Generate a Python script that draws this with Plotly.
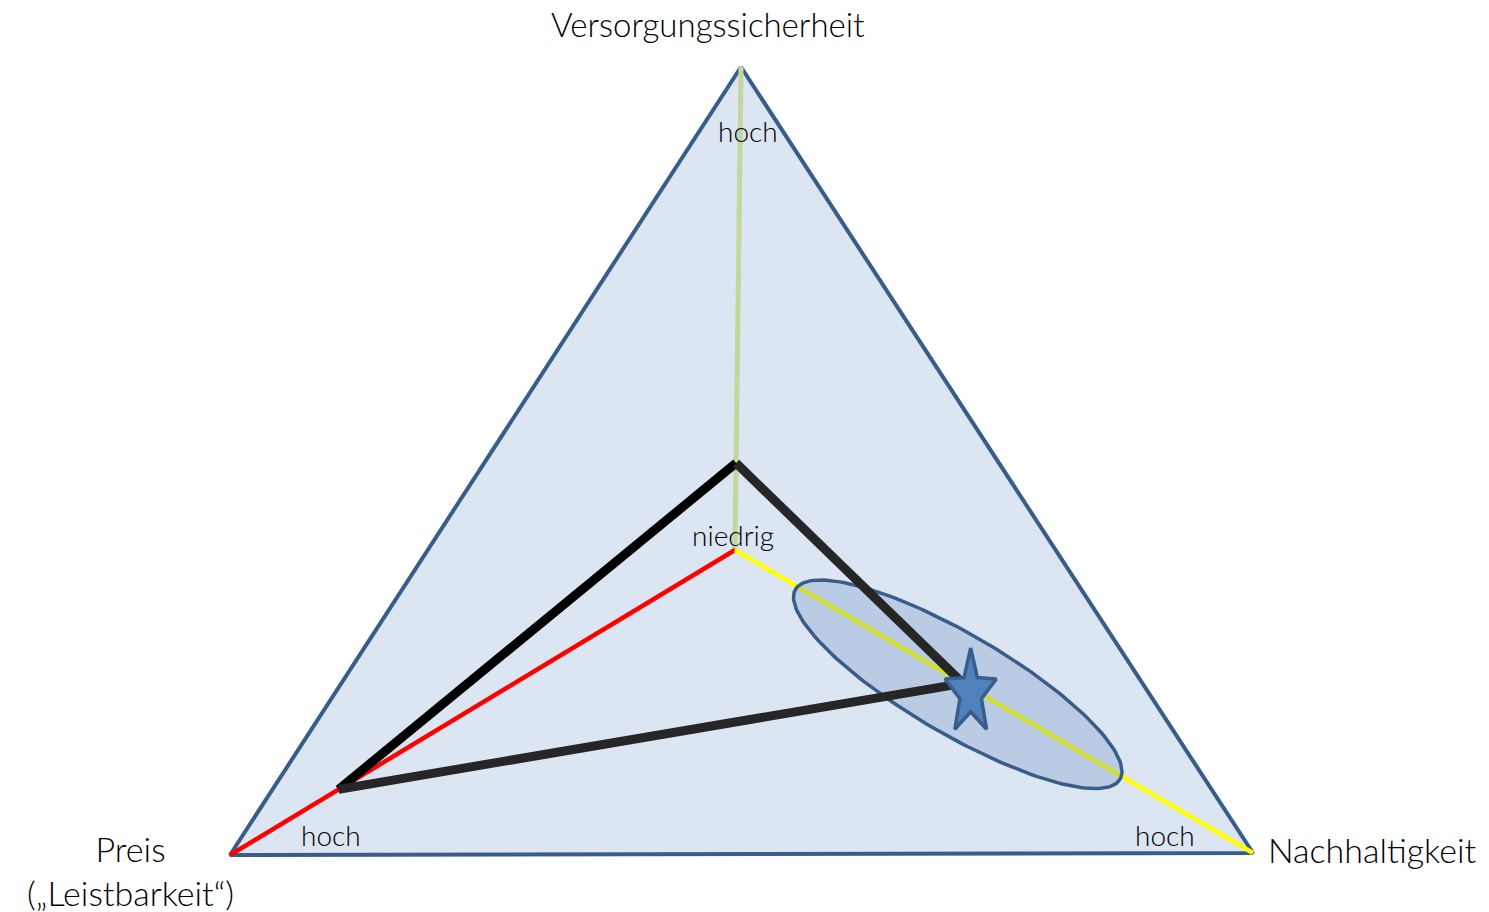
import numpy as np
import plotly.graph_objects as go

# Zieldreieck der Energiepolitik
axis_names = ["Versorgungssicherheit", "Preis<br>(„Leistbarkeit“)", "Nachhaltigkeit"]
axis_colors = ["#C3D69B", "#FF0000", "#FFFF00"]
scale_low = "niedrig"
scale_high = "hoch"

# Ist-Profil (0 = niedrig, 1 = hoch) je Achse
profile_values = [0.18, 0.785, 0.44]
# Zielbereich (Stern + Ellipse) auf der Nachhaltigkeits-Achse
target_value = 0.455
ellipse_value = 0.43

# geometry in pixel-like data units (y downwards)
center = np.array([735.0, 550.0])
corners = [np.array([741.0, 67.0]), np.array([230.0, 855.0]), np.array([1253.0, 853.0])]


def on_axis(i, v):
    return center + v * (corners[i] - center)


fig = go.Figure()

# triangle background
tri_x = [c[0] for c in corners] + [corners[0][0]]
tri_y = [c[1] for c in corners] + [corners[0][1]]
fig.add_trace(go.Scatter(x=tri_x, y=tri_y, mode="lines", fill="toself",
                         fillcolor="#DCE6F2", line=dict(color="#385D8A", width=4),
                         hoverinfo="skip"))

# axes from centre to corners
for i in range(3):
    p0, p1 = on_axis(i, 0), on_axis(i, 1)
    fig.add_trace(go.Scatter(x=[p0[0], p1[0]], y=[p0[1], p1[1]], mode="lines",
                             line=dict(color=axis_colors[i], width=5 if i == 0 else 4.5),
                             hoverinfo="skip"))

# ellipse along the Nachhaltigkeit axis
ec = on_axis(2, ellipse_value) + np.array([0, 4])
d = corners[2] - center
ang = np.arctan2(d[1], d[0])
t = np.linspace(0, 2 * np.pi, 200)
a, b = 188, 50
ex = ec[0] + a * np.cos(t) * np.cos(ang) - b * np.sin(t) * np.sin(ang)
ey = ec[1] + a * np.cos(t) * np.sin(ang) + b * np.sin(t) * np.cos(ang)
fig.add_trace(go.Scatter(x=ex, y=ey, mode="lines", fill="toself",
                         fillcolor="rgba(79,129,189,0.25)",
                         line=dict(color="#385D8A", width=3.5), hoverinfo="skip"))

# profile polygon
pts = [on_axis(i, v) for i, v in enumerate(profile_values)]
segs = [(0, 1, "#000000"), (1, 2, "#262626"), (2, 0, "#262626")]
for s, e, col in segs:
    fig.add_trace(go.Scatter(x=[pts[s][0], pts[e][0]], y=[pts[s][1], pts[e][1]],
                             mode="lines", line=dict(color=col, width=9),
                             hoverinfo="skip"))

# star (target)
sc = on_axis(2, target_value) + np.array([0, 5])
k = np.arange(11)
r = np.where(k % 2 == 0, 1.0, 0.42)
phi = -np.pi / 2 + k * np.pi / 5
sx = sc[0] + 27 * r * np.cos(phi)
sy = sc[1] + 45 * r * np.sin(phi)
fig.add_trace(go.Scatter(x=sx, y=sy, mode="lines", fill="toself",
                         fillcolor="#4F81BD", line=dict(color="#385D8A", width=3.5),
                         hoverinfo="skip"))

font = "Lato, 'Open Sans', sans-serif"
ann = [
    dict(x=707, y=24, text=axis_names[0], size=33),
    dict(x=130, y=870, text=axis_names[1], size=34),
    dict(x=1372, y=849, text=axis_names[2], size=34),
    dict(x=748, y=131, text=scale_high, size=28),
    dict(x=331, y=835, text=scale_high, size=28),
    dict(x=1165, y=835, text=scale_high, size=28),
    dict(x=733, y=535, text=scale_low, size=28),
]
for an in ann:
    fig.add_annotation(x=an["x"], y=an["y"], text=an["text"], showarrow=False,
                       font=dict(family=font, size=an["size"], color="#000000", weight=300),
                       xanchor="center", yanchor="middle")

fig.update_layout(
    width=1489, height=912,
    margin=dict(l=0, r=0, t=0, b=0),
    showlegend=False,
    plot_bgcolor="white", paper_bgcolor="white",
    xaxis=dict(range=[0, 1489], visible=False, fixedrange=True),
    yaxis=dict(range=[912, 0], visible=False, fixedrange=True),
)

# drop the default 8px page margin so the figure sits at the window corner
fig.write_html("out.html", config={"displayModeBar": False},
               post_script="document.body.style.margin='0px';")
